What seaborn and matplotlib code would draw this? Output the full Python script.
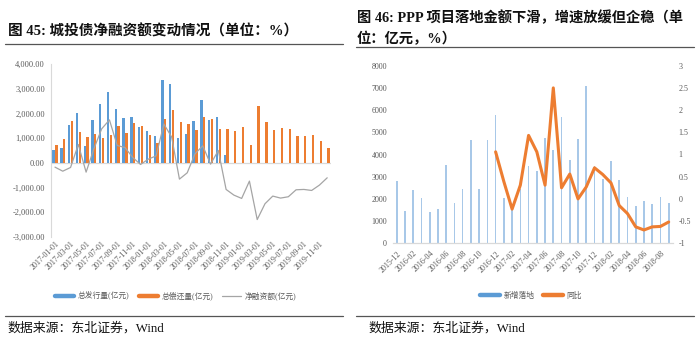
import numpy as np
import pandas as pd
import matplotlib
matplotlib.use("Agg")
import matplotlib.pyplot as plt
import seaborn as sns
from matplotlib.lines import Line2D

sns.set_style("white")
plt.rcParams["font.family"] = ["Liberation Serif", "Noto Sans CJK SC"]

# ---------------- data: left chart ----------------
months_l = [str(d.date()) for d in pd.date_range("2017-01-01", "2019-12-01", freq="MS")]
issue = [540, 620, 1527, 2013, 675, 1730, 2405, 2878, 2189, 1824, 1851, 1446,
         1284, 1081, 3351, 3195, 1014, 1189, 1703, 2541, 1743, 1865, 297, 0,
         0, 0, 0, 0, 0, 0, 0, 0, 0, 0, 0, 0]
repay = [716, 960, 1716, 1270, 1054, 1162, 1027, 1135, 1486, 1203, 1635, 1514,
         1135, 800, 1777, 2149, 1676, 1595, 1338, 1851, 1797, 1365, 1378, 1311,
         1446, 743, 2304, 1662, 1351, 1432, 1378, 1095, 1081, 1122, 905, 608]
net = [-176, -340, -189, 743, -379, 568, 1378, 1743, 703, 621, 216, -68,
       149, 281, 1574, 1046, -662, -406, 365, 690, -54, 500, -1081, -1311,
       -1446, -743, -2304, -1662, -1351, -1432, -1378, -1095, -1081, -1122, -905, -608]
series_l = ["总发行量(亿元)", "总偿还量(亿元)", "净融资额(亿元)"]

# ---------------- data: right chart ----------------
months_r = [d.strftime("%Y-%m") for d in pd.date_range("2015-12-01", "2018-09-01", freq="MS")]
new_land = [2808, 1456, 2402, 2057, 1411, 1561, 3543, 1802, 2432, 4654, 2432, 4640,
            5780, 2057, 1577, 2450, 3483, 3250, 4750, 4200, 5700, 3750, 4700, 7100,
            3500, 2900, 3700, 2850, 2100, 1680, 1900, 1770, 2100, 1800]
yoy = [np.nan] * 12 + [1.06, 0.39, -0.23, 0.31, 1.43, 1.06, 0.31, 2.5, 0.25, 0.56,
                       0.0, 0.27, 0.7, 0.55, 0.36, -0.15, -0.33, -0.63, -0.7, -0.63,
                       -0.62, -0.52]
series_r = ["新增落地", "同比"]

BLUE = "#5B9BD5"
ORANGE = "#ED7D31"
GRAY = "#A5A5A5"
AXC = "#D9D9D9"
TXT = "#595959"

fig = plt.figure(figsize=(7.0, 3.38), dpi=100)

# ---------------- left chart ----------------
axL = fig.add_axes([51.1 / 700, 1 - 236.7 / 338, 280 / 700, (236.7 - 64.3) / 338])
dfL = pd.DataFrame({
    "month": months_l * 2,
    "value": issue + repay,
    "series": [series_l[0]] * len(months_l) + [series_l[1]] * len(months_l),
})
sns.barplot(data=dfL, x="month", y="value", hue="series", order=months_l,
            hue_order=series_l[:2], palette=[BLUE, ORANGE], width=0.72,
            gap=0.15, ax=axL, legend=False, saturation=1, linewidth=0,
            edgecolor="none")
sns.lineplot(x=np.arange(len(months_l)), y=net, color=GRAY, lw=0.9, ax=axL)
axL.set_xlim(-0.5, len(months_l) - 0.5)
axL.set_ylim(-3000, 4000)
axL.set_yticks(np.arange(-3000, 4001, 1000))
axL.set_yticklabels([f"{v:,.2f}" for v in np.arange(-3000, 4001, 1000)],
                    fontsize=6, color=TXT)
axL.axhline(0, color=AXC, lw=0.9, zorder=0.5)
for s in ["top", "right", "bottom"]:
    axL.spines[s].set_visible(False)
axL.spines["left"].set_color(AXC)
axL.spines["left"].set_linewidth(0.8)
axL.tick_params(axis="y", length=2.5, width=0.6, color=AXC, pad=2)
xt = np.arange(0, len(months_l), 2)
axL.set_xticks(xt)
axL.set_xticklabels([months_l[i] for i in xt], rotation=45, ha="right",
                    rotation_mode="anchor", fontsize=5.8, color=TXT)
axL.tick_params(axis="x", length=0, pad=2)
axL.set_xlabel("")
axL.set_ylabel("")

hL = [Line2D([], [], color=BLUE, lw=3.2), Line2D([], [], color=ORANGE, lw=3.2),
      Line2D([], [], color=GRAY, lw=0.9)]
fig.legend(hL, series_l, loc="center", bbox_to_anchor=(176 / 700, 1 - 296 / 338),
           ncol=3, frameon=False, fontsize=5.6, handlelength=2.4, columnspacing=1.2,
           handletextpad=0.5, labelcolor=TXT)

# ---------------- right chart ----------------
axR = fig.add_axes([392.6 / 700, 1 - 243.3 / 338, 280.2 / 700, (243.3 - 65.7) / 338])
dfR = pd.DataFrame({"month": months_r, "value": new_land})
sns.barplot(data=dfR, x="month", y="value", order=months_r, color="#A8C8E8",
            width=0.2, ax=axR, saturation=1, linewidth=0, edgecolor="none")
axR.set_xlim(-0.5, len(months_r) - 0.5)
axR.set_ylim(0, 8000)
axR.set_yticks(np.arange(0, 8001, 1000))
axR.set_yticklabels([str(v) for v in range(0, 8001, 1000)], fontsize=5.8, color=TXT)
for s in ["top", "right", "left"]:
    axR.spines[s].set_visible(False)
axR.spines["bottom"].set_color(AXC)
axR.spines["bottom"].set_linewidth(0.9)
xr = np.arange(0, len(months_r), 2)
axR.set_xticks(xr)
axR.set_xticklabels([months_r[i] for i in xr], rotation=45, ha="right",
                    rotation_mode="anchor", fontsize=5.8, color=TXT)
axR.tick_params(axis="x", length=2.5, width=0.6, color=AXC, pad=2)
axR.tick_params(axis="y", length=0, pad=4)
axR.set_xlabel("")
axR.set_ylabel("")

axR2 = axR.twinx()
sns.lineplot(x=np.arange(len(months_r)), y=yoy, color=ORANGE, lw=2.2, ax=axR2)
axR2.set_ylim(-1, 3)
axR2.set_yticks(np.arange(-1, 3.01, 0.5))
axR2.set_yticklabels(["-1", "-0.5", "0", "0.5", "1", "1.5", "2", "2.5", "3"],
                     fontsize=5.8, color=TXT)
for s in ["top", "right", "left", "bottom"]:
    axR2.spines[s].set_visible(False)
axR2.tick_params(axis="y", length=0, pad=4)
axR2.set_ylabel("")

hR = [Line2D([], [], color=BLUE, lw=3.2), Line2D([], [], color=ORANGE, lw=3.2)]
fig.legend(hR, series_r, loc="center", bbox_to_anchor=(531 / 700, 1 - 296 / 338),
           ncol=2, frameon=False, fontsize=5.6, handlelength=2.6, columnspacing=1.0,
           handletextpad=0.5, labelcolor=TXT)

# ---------------- titles, rules, sources ----------------
fig.text(8 / 700, 1 - 31 / 338, "图 45: 城投债净融资额变动情况（单位：%）",
         fontsize=10.5, fontweight="bold", va="center", ha="left", color="#111111")
fig.text(357 / 700, 1 - 18 / 338, "图 46: PPP 项目落地金额下滑，增速放缓但企稳（单",
         fontsize=10.3, fontweight="bold", va="center", ha="left", color="#111111")
fig.text(357 / 700, 1 - 39 / 338, "位：亿元，%）",
         fontsize=10.3, fontweight="bold", va="center", ha="left", color="#111111")
for (x0, x1, y) in [(5, 343, 44), (356, 694, 47), (5, 343, 316), (356, 694, 316)]:
    fig.add_artist(Line2D([x0 / 700, x1 / 700], [1 - y / 338, 1 - y / 338],
                          color="#555555", lw=0.9))
fig.text(7 / 700, 1 - 328 / 338, "数据来源：东北证券，Wind", fontsize=9.3,
         va="center", ha="left", color="#111111")
fig.text(368 / 700, 1 - 328 / 338, "数据来源：东北证券，Wind", fontsize=9.3,
         va="center", ha="left", color="#111111")

fig.savefig("out.png", dpi=100)
